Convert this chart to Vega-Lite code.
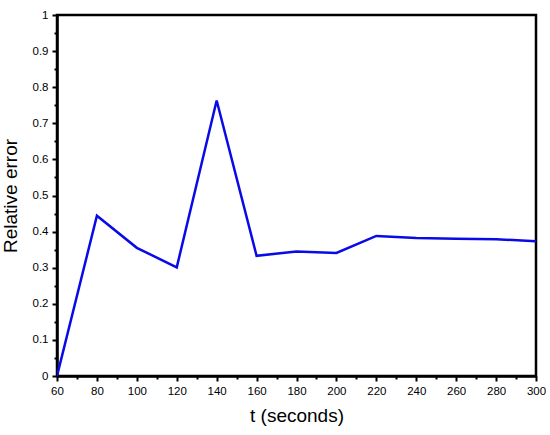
{
  "$schema": "https://vega.github.io/schema/vega-lite/v6.json",
  "autosize": "none",
  "padding": {"left": 57, "top": 15, "right": 14, "bottom": 59},
  "width": 479,
  "height": 361,
  "background": "white",
  "config": {
    "view": {"stroke": "black", "strokeWidth": 2.5},
    "axis": {
      "domainColor": "black", "domainWidth": 2.5, "tickColor": "black", "tickWidth": 2,
      "grid": false, "labelFont": "Liberation Sans", "labelFontSize": 11.5, "labelColor": "black", "labelFlush": false,
      "titleFont": "Liberation Sans", "titleFontWeight": "normal", "titleColor": "black", "titleFontSize": 19
    }
  },
  "data": {"values": [
    {"t": 60, "err": 0.0},
    {"t": 80, "err": 0.444},
    {"t": 100, "err": 0.355},
    {"t": 120, "err": 0.301},
    {"t": 140, "err": 0.763},
    {"t": 160, "err": 0.333},
    {"t": 180, "err": 0.345},
    {"t": 200, "err": 0.341},
    {"t": 220, "err": 0.388},
    {"t": 240, "err": 0.382},
    {"t": 260, "err": 0.380},
    {"t": 280, "err": 0.379},
    {"t": 300, "err": 0.373}
  ]},
  "mark": {"type": "line", "color": "#0a0ae6", "strokeWidth": 2.5, "clip": true},
  "encoding": {
    "x": {"field": "t", "type": "quantitative", "scale": {"domain": [60, 300], "nice": false, "zero": false},
      "axis": {"values": [60,70,80,90,100,110,120,130,140,150,160,170,180,190,200,210,220,230,240,250,260,270,280,290,300],
        "labelExpr": "datum.value % 20 === 0 ? datum.label : ''",
        "tickSize": {"condition": {"test": "datum.value % 20 === 0", "value": 5}, "value": 3},
        "labelPadding": 4, "title": "t (seconds)", "titlePadding": 10}},
    "y": {"field": "err", "type": "quantitative", "scale": {"domain": [0, 1], "nice": false},
      "axis": {"values": [0,0.05,0.1,0.15,0.2,0.25,0.3,0.35,0.4,0.45,0.5,0.55,0.6,0.65,0.7,0.75,0.8,0.85,0.9,0.95,1],
        "labelExpr": "abs(datum.value*10 - round(datum.value*10)) < 0.01 ? format(datum.value, '~g') : ''",
        "tickSize": {"condition": {"test": "abs(datum.value*10 - round(datum.value*10)) < 0.01", "value": 5}, "value": 3},
        "labelPadding": 4, "title": "Relative error", "titlePadding": 12}}
  }
}
